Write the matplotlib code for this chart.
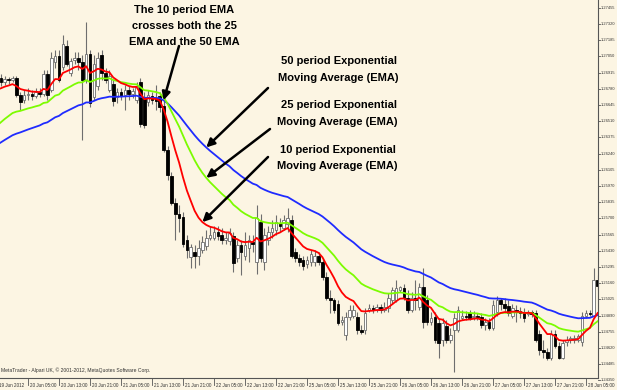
import matplotlib
matplotlib.use("Agg")
import matplotlib.pyplot as plt

# EURUSD H1, 19 Jun 21:00 - 28 Jun 06:00
opens = [
    1.2685, 1.2687, 1.2684, 1.2686, 1.2685, 1.2687, 1.2673, 1.2669, 1.2673, 1.2674, 1.2672, 1.2675,
    1.2674, 1.2690, 1.2677, 1.2700, 1.2705, 1.2696, 1.2714, 1.2691, 1.2702, 1.2704, 1.2700, 1.2685,
    1.2707, 1.2671, 1.2680, 1.2706, 1.2691, 1.2677, 1.2682, 1.2671, 1.2675, 1.2673, 1.2677, 1.2674,
    1.2669, 1.2684, 1.2670, 1.2667, 1.2672, 1.2670, 1.2672, 1.2664, 1.2627, 1.2605, 1.2583, 1.2574,
    1.2571, 1.2552, 1.2538, 1.2542, 1.2539, 1.2544, 1.2547, 1.2554, 1.2554, 1.2559, 1.2556, 1.2552,
    1.2551, 1.2555, 1.2537, 1.2548, 1.2539, 1.2545, 1.2550, 1.2534, 1.2567, 1.2534, 1.2552, 1.2559,
    1.2560, 1.2566, 1.2562, 1.2565, 1.2569, 1.2542, 1.2537, 1.2535, 1.2532, 1.2534, 1.2534, 1.2539,
    1.2534, 1.2521, 1.2504, 1.2502, 1.2499, 1.2484, 1.2473, 1.2488, 1.2489, 1.2488, 1.2477, 1.2477,
    1.2494, 1.2495, 1.2494, 1.2496, 1.2494, 1.2495, 1.2502, 1.2502, 1.2510, 1.2512, 1.2504, 1.2494,
    1.2504, 1.2496, 1.2513, 1.2502, 1.2484, 1.2488, 1.2483, 1.2469, 1.2480, 1.2469, 1.2477, 1.2477,
    1.2487, 1.2489, 1.2491, 1.2488, 1.2489, 1.2488, 1.2481, 1.2484, 1.2479, 1.2492, 1.2502, 1.2499,
    1.2497, 1.2489, 1.2494, 1.2493, 1.2492, 1.2490, 1.2492, 1.2491, 1.2474, 1.2460, 1.2459, 1.2454,
    1.2474, 1.2464, 1.2454, 1.2467, 1.2469, 1.2469, 1.2469, 1.2467, 1.2489, 1.2491, 1.2489, 1.2519,
]
highs = [
    1.2692, 1.2690, 1.2689, 1.2688, 1.2689, 1.2689, 1.2675, 1.2677, 1.2679, 1.2677, 1.2679, 1.2679,
    1.2694, 1.2694, 1.2709, 1.2710, 1.2710, 1.2723, 1.2719, 1.2704, 1.2709, 1.2709, 1.2706, 1.2734,
    1.2710, 1.2706, 1.2709, 1.2710, 1.2695, 1.2694, 1.2685, 1.2679, 1.2679, 1.2681, 1.2680, 1.2679,
    1.2684, 1.2687, 1.2675, 1.2677, 1.2675, 1.2681, 1.2675, 1.2669, 1.2630, 1.2609, 1.2587, 1.2581,
    1.2575, 1.2556, 1.2549, 1.2548, 1.2552, 1.2555, 1.2560, 1.2564, 1.2564, 1.2564, 1.2562, 1.2559,
    1.2562, 1.2559, 1.2552, 1.2552, 1.2559, 1.2556, 1.2556, 1.2581, 1.2574, 1.2562, 1.2564, 1.2569,
    1.2573, 1.2570, 1.2573, 1.2579, 1.2573, 1.2545, 1.2540, 1.2539, 1.2539, 1.2544, 1.2544, 1.2542,
    1.2537, 1.2525, 1.2510, 1.2504, 1.2502, 1.2489, 1.2492, 1.2498, 1.2498, 1.2492, 1.2481, 1.2495,
    1.2499, 1.2498, 1.2499, 1.2499, 1.2500, 1.2508, 1.2513, 1.2519, 1.2514, 1.2515, 1.2510, 1.2509,
    1.2519, 1.2516, 1.2529, 1.2506, 1.2492, 1.2492, 1.2487, 1.2487, 1.2485, 1.2479, 1.2491, 1.2497,
    1.2494, 1.2493, 1.2494, 1.2493, 1.2491, 1.2491, 1.2487, 1.2487, 1.2502, 1.2505, 1.2504, 1.2504,
    1.2502, 1.2499, 1.2498, 1.2496, 1.2495, 1.2494, 1.2494, 1.2494, 1.2477, 1.2469, 1.2462, 1.2477,
    1.2477, 1.2467, 1.2469, 1.2472, 1.2472, 1.2473, 1.2474, 1.2492, 1.2494, 1.2494, 1.2529, 1.2523,
]
lows = [
    1.2681, 1.2680, 1.2681, 1.2682, 1.2684, 1.2671, 1.2660, 1.2666, 1.2669, 1.2669, 1.2670, 1.2671,
    1.2672, 1.2669, 1.2675, 1.2695, 1.2684, 1.2694, 1.2697, 1.2689, 1.2699, 1.2694, 1.2635, 1.2683,
    1.2663, 1.2669, 1.2677, 1.2685, 1.2683, 1.2675, 1.2664, 1.2666, 1.2669, 1.2660, 1.2669, 1.2670,
    1.2666, 1.2646, 1.2645, 1.2664, 1.2665, 1.2660, 1.2659, 1.2625, 1.2602, 1.2581, 1.2552, 1.2559,
    1.2546, 1.2537, 1.2529, 1.2529, 1.2531, 1.2541, 1.2544, 1.2552, 1.2552, 1.2552, 1.2549, 1.2549,
    1.2548, 1.2525, 1.2534, 1.2523, 1.2535, 1.2534, 1.2542, 1.2524, 1.2534, 1.2527, 1.2548, 1.2554,
    1.2556, 1.2559, 1.2560, 1.2559, 1.2537, 1.2534, 1.2530, 1.2527, 1.2529, 1.2530, 1.2530, 1.2531,
    1.2519, 1.2502, 1.2491, 1.2491, 1.2481, 1.2481, 1.2469, 1.2485, 1.2487, 1.2474, 1.2474, 1.2474,
    1.2492, 1.2491, 1.2492, 1.2491, 1.2492, 1.2492, 1.2499, 1.2500, 1.2509, 1.2502, 1.2491, 1.2492,
    1.2494, 1.2494, 1.2479, 1.2481, 1.2481, 1.2466, 1.2454, 1.2464, 1.2466, 1.2466, 1.2442, 1.2475,
    1.2485, 1.2485, 1.2485, 1.2485, 1.2485, 1.2479, 1.2477, 1.2477, 1.2477, 1.2489, 1.2494, 1.2492,
    1.2489, 1.2487, 1.2484, 1.2487, 1.2484, 1.2489, 1.2488, 1.2467, 1.2456, 1.2454, 1.2452, 1.2452,
    1.2462, 1.2453, 1.2453, 1.2464, 1.2466, 1.2466, 1.2467, 1.2464, 1.2487, 1.2489, 1.2487, 1.2510,
]
closes = [
    1.2687, 1.2684, 1.2686, 1.2685, 1.2687, 1.2673, 1.2667, 1.2673, 1.2674, 1.2672, 1.2675, 1.2674,
    1.2690, 1.2673, 1.2704, 1.2705, 1.2685, 1.2715, 1.2699, 1.2701, 1.2704, 1.2700, 1.2685, 1.2707,
    1.2666, 1.2699, 1.2704, 1.2691, 1.2685, 1.2689, 1.2668, 1.2675, 1.2672, 1.2677, 1.2674, 1.2676,
    1.2680, 1.2649, 1.2648, 1.2673, 1.2669, 1.2668, 1.2663, 1.2627, 1.2606, 1.2583, 1.2574, 1.2570,
    1.2549, 1.2544, 1.2546, 1.2539, 1.2545, 1.2550, 1.2554, 1.2556, 1.2559, 1.2555, 1.2552, 1.2554,
    1.2558, 1.2533, 1.2548, 1.2542, 1.2548, 1.2552, 1.2549, 1.2570, 1.2537, 1.2556, 1.2559, 1.2562,
    1.2567, 1.2564, 1.2569, 1.2570, 1.2539, 1.2537, 1.2534, 1.2530, 1.2535, 1.2540, 1.2539, 1.2534,
    1.2521, 1.2504, 1.2502, 1.2494, 1.2483, 1.2485, 1.2488, 1.2494, 1.2494, 1.2477, 1.2475, 1.2491,
    1.2495, 1.2494, 1.2496, 1.2494, 1.2496, 1.2504, 1.2510, 1.2512, 1.2513, 1.2504, 1.2494, 1.2504,
    1.2502, 1.2513, 1.2484, 1.2484, 1.2487, 1.2469, 1.2466, 1.2483, 1.2469, 1.2473, 1.2487, 1.2494,
    1.2489, 1.2488, 1.2487, 1.2489, 1.2488, 1.2481, 1.2484, 1.2479, 1.2498, 1.2502, 1.2499, 1.2495,
    1.2491, 1.2495, 1.2492, 1.2491, 1.2487, 1.2492, 1.2490, 1.2469, 1.2460, 1.2459, 1.2454, 1.2474,
    1.2464, 1.2454, 1.2466, 1.2469, 1.2470, 1.2470, 1.2472, 1.2489, 1.2491, 1.2490, 1.2519, 1.2514,
]

# EMA values just before the first visible bar
ema_seeds = {10: 1.2675, 25: 1.2644, 50: 1.2629}

price_labels = ["1.24350", "1.24485", "1.24620", "1.24755", "1.24890", "1.25025",
                "1.25160", "1.25295", "1.25430", "1.25565", "1.25700", "1.25835",
                "1.25970", "1.26105", "1.26240", "1.26375", "1.26510", "1.26645",
                "1.26780", "1.26915", "1.27050", "1.27185", "1.27320", "1.27455"]
time_labels = ["19 Jun 2012", "20 Jun 05:00", "20 Jun 13:00", "20 Jun 21:00",
               "21 Jun 05:00", "21 Jun 13:00", "21 Jun 21:00", "22 Jun 05:00",
               "22 Jun 13:00", "22 Jun 21:00", "25 Jun 05:00", "25 Jun 13:00",
               "25 Jun 21:00", "26 Jun 05:00", "26 Jun 13:00", "26 Jun 21:00",
               "27 Jun 05:00", "27 Jun 13:00", "27 Jun 21:00", "28 Jun 05:00"]


def ema(values, period, seed):
    k = 2.0 / (period + 1)
    out = []
    e = seed
    for v in values:
        e = e + k * (v - e)
        out.append(e)
    return out


bg = "#FCF5E3"
n = len(closes)
xs = list(range(n))

fig = plt.figure(figsize=(6.17, 3.90), dpi=100)
fig.patch.set_facecolor(bg)
ax = fig.add_axes([0, 12 / 390, 598 / 617, 378 / 390])
ax.set_facecolor(bg)
ax.set_xlim(0.77, 155.1)
ax.set_ylim(1.2437, 1.2752)
ax.set_xticks([])
ax.set_yticks([])
for s in ["top", "left"]:
    ax.spines[s].set_visible(False)
for s in ["right", "bottom"]:
    ax.spines[s].set_color("#555555")
    ax.spines[s].set_linewidth(0.8)

# candles
ax.vlines(xs, lows, highs, color="#6e6e6e", lw=0.8, zorder=2)
for i in xs:
    o, c = opens[i], closes[i]
    lo, hi = min(o, c), max(o, c)
    h = max(hi - lo, 0.00004)
    if c >= o:
        ax.bar(i, h, bottom=lo, width=0.7, color="white", edgecolor="#6e6e6e", lw=0.6, zorder=3)
    else:
        ax.bar(i, h, bottom=lo, width=0.7, color="black", edgecolor="black", lw=0.6, zorder=3)

ema10 = ema(closes, 10, ema_seeds[10])
ema25 = ema(closes, 25, ema_seeds[25])
ema50 = ema(closes, 50, ema_seeds[50])
ax.plot(xs, ema50, color="#1f2bff", lw=1.3, zorder=4)
ax.plot(xs, ema25, color="#7cfc00", lw=1.3, zorder=4)
ax.plot(xs, ema10, color="#ff0000", lw=1.3, zorder=5)

small = dict(color="#333333", family="Liberation Sans", clip_on=False)

# price scale on the right
ytr = ax.get_yaxis_transform()
for lab in price_labels:
    p = float(lab)
    ax.plot([1.0, 1.004], [p, p], color="#555555", lw=0.6, transform=ytr, clip_on=False)
    ax.text(1.005, p, lab, transform=ytr, va="center", ha="left", fontsize=2.9, **small)

# time scale
xtr = ax.get_xaxis_transform()
for k, lab in enumerate(time_labels):
    xi = k * 8
    ax.plot([xi, xi], [0, -0.018], color="#555555", lw=0.6, transform=xtr, clip_on=False)
    ax.text(xi + 0.4, -0.019, lab, transform=xtr, va="center", ha="left", fontsize=3.3, **small)

fig.text(1 / 617, 1 - 370 / 390, "MetaTrader - Alpari UK, \u00a9 2001-2012, MetaQuotes Software Corp.",
         va="center", ha="left", fontsize=3.6, color="#333333", family="Liberation Sans")

# annotations
tfont = dict(fontsize=8, fontweight="bold", family="Liberation Sans", color="black",
             ha="center", va="center")


def ftext(x, y, s):
    fig.text(x / 617, 1 - y / 390, s, **tfont)


ftext(184, 10, "The 10 period EMA")
ftext(184, 26, "crosses both the 25")
ftext(184, 42, "EMA and the 50 EMA")
ftext(339, 61, "50 period Exponential")
ftext(338, 78, "Moving Average (EMA)")
ftext(339, 105, "25 period Exponential")
ftext(337, 122, "Moving Average (EMA)")
ftext(338, 150, "10 period Exponential")
ftext(337, 166, "Moving Average (EMA)")

arrow = dict(arrowstyle="-|>", color="black", lw=1.8, mutation_scale=12, shrinkA=0, shrinkB=0)
ax.annotate("", xy=(43, ema50[43]), xytext=(179, 390 - 46), textcoords="figure pixels",
            arrowprops=arrow, zorder=6)
ax.annotate("", xy=(54, ema50[54]), xytext=(268, 390 - 88), textcoords="figure pixels",
            arrowprops=arrow, zorder=6)
ax.annotate("", xy=(54, ema25[54]), xytext=(270, 390 - 129), textcoords="figure pixels",
            arrowprops=arrow, zorder=6)
ax.annotate("", xy=(53, ema10[53]), xytext=(268, 390 - 157), textcoords="figure pixels",
            arrowprops=arrow, zorder=6)

fig.savefig("out.png", dpi=100, facecolor=bg)
